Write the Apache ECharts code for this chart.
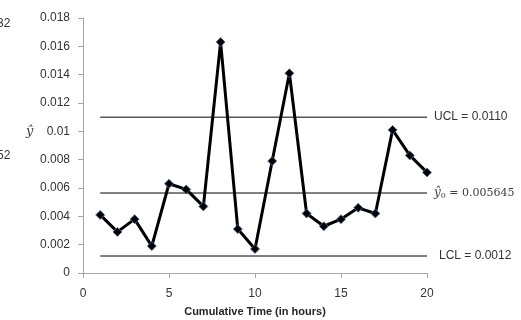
<!DOCTYPE html>
<html><head><meta charset="utf-8">
<script src="https://cdn.jsdelivr.net/npm/echarts@6/dist/echarts.min.js"></script>
<style>html,body{margin:0;padding:0;background:#fff}#c{width:521px;height:320px}</style>
</head><body><div id="c"></div>
<script>
const hours = [1,2,3,4,5,6,7,8,9,10,11,12,13,14,15,16,17,18,19,20];
const yhat = [0.0041,0.0029,0.0038,0.0019,0.0063,0.0059,0.0047,0.0163,0.0031,0.0017,0.0079,0.0141,0.0042,0.0033,0.0038,0.0046,0.0042,0.0101,0.0083,0.0071];
const ucl = 0.0110;
const center = 0.005645;
const lcl = 0.0012;
const yTicks = [0,0.002,0.004,0.006,0.008,0.01,0.012,0.014,0.016,0.018];
const xTicks = [0,5,10,15,20];

const font = 'Liberation Sans';
const chart = echarts.init(document.getElementById('c'));
function ctrl(v, label, dist, rich){
  return {
    type:'line', data:[[hours[0],v],[hours[hours.length-1],v]], symbol:'none', silent:true,
    lineStyle:{color:'#000',width:1}, z:1,
    endLabel:{show:true, distance:dist, formatter:label, color:'#333', fontFamily:font, fontSize:12, rich:rich||{}}
  };
}
chart.setOption({
  animation:false,
  grid:{left:83,right:94,top:18,bottom:47,containLabel:false,outerBoundsMode:'none'},
  xAxis:{type:'value',min:xTicks[0],max:xTicks[xTicks.length-1],interval:5,
    name:'Cumulative Time (in hours)',nameLocation:'middle',nameGap:33,
    nameTextStyle:{fontFamily:font,fontSize:11,fontWeight:'bold',color:'#262626'},
    axisLine:{lineStyle:{color:'#a6a6a6'}},axisTick:{show:true,length:5,lineStyle:{color:'#a6a6a6'}},
    axisLabel:{fontFamily:font,fontSize:12,color:'#333',margin:15},splitLine:{show:false}},
  yAxis:{type:'value',min:yTicks[0],max:yTicks[yTicks.length-1],interval:0.002,
    axisLine:{show:true,lineStyle:{color:'#a6a6a6'}},axisTick:{show:true,length:5,lineStyle:{color:'#a6a6a6'}},
    axisLabel:{fontFamily:font,fontSize:12,color:'#333',margin:13},splitLine:{show:false}},
  graphic:[
    {type:'text',left:26,top:125,style:{text:'ŷ',font:'italic 13px "DejaVu Serif"',fill:'#404040'}},
    {type:'text',left:-3,top:18,style:{text:'32',font:'12px "Liberation Sans"',fill:'#333'}},
    {type:'text',left:-3,top:150,style:{text:'52',font:'12px "Liberation Sans"',fill:'#333'}}
  ],
  series:[
    ctrl(ucl,'UCL = 0.0110',7),
    ctrl(center,'{i|ŷ}{s|0} {m|= 0.005645}',7,{
      i:{fontFamily:'DejaVu Serif',fontStyle:'italic',fontSize:12,color:'#404040'},
      s:{fontFamily:'DejaVu Serif',fontSize:8,color:'#404040',verticalAlign:'bottom',padding:[6,0,0,0]},
      m:{fontFamily:'DejaVu Serif',fontSize:11,color:'#404040'}}),
    ctrl(lcl,'LCL = 0.0012',12),
    {type:'line',data:hours.map((h,i)=>[h,yhat[i]]),symbol:'diamond',symbolSize:9,
     itemStyle:{color:'#000',borderColor:'#4a6fa5',borderWidth:0.8},
     lineStyle:{color:'#000',width:3},z:3}
  ]
});
</script></body></html>
